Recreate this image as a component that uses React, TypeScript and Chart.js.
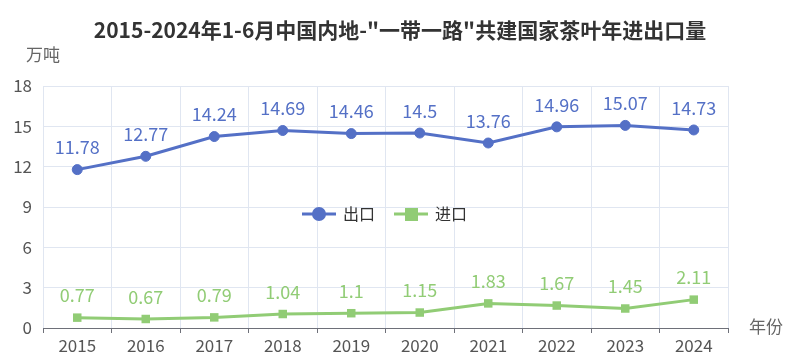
import React, { useEffect, useRef } from "react";
import { Chart, registerables } from "chart.js";

Chart.register(...registerables);

const years = ["2015", "2016", "2017", "2018", "2019", "2020", "2021", "2022", "2023", "2024"];
const exportValues = [11.78, 12.77, 14.24, 14.69, 14.46, 14.5, 13.76, 14.96, 15.07, 14.73];
const importValues = [0.77, 0.67, 0.79, 1.04, 1.1, 1.15, 1.83, 1.67, 1.45, 2.11];
const seriesNames = ["出口", "进口"];
const titleText = '2015-2024年1-6月中国内地-"一带一路"共建国家茶叶年进出口量';
const yUnit = "万吨";
const xUnit = "年份";

const BLUE = "#5470c6";
const GREEN = "#91cc75";
const FONT = '"Noto Sans CJK SC", "Noto Sans", sans-serif';

const overlayPlugin = {
  id: "overlay",
  afterDatasetsDraw(chart: any) {
    const ctx = chart.ctx;
    ctx.save();
    // data labels
    chart.data.datasets.forEach((ds: any, i: number) => {
      const meta = chart.getDatasetMeta(i);
      ctx.fillStyle = ds.borderColor;
      ctx.font = `18px ${FONT}`;
      ctx.textAlign = "center";
      ctx.textBaseline = "middle";
      meta.data.forEach((pt: any, j: number) => {
        ctx.fillText(String(ds.data[j]), pt.x, pt.y - 22);
      });
    });
    // title
    ctx.fillStyle = "#333";
    ctx.font = `bold 21px ${FONT}`;
    ctx.textAlign = "center";
    ctx.textBaseline = "middle";
    ctx.fillText(titleText, 400, 30);
    // axis names
    ctx.fillStyle = "#666";
    ctx.font = `17px ${FONT}`;
    ctx.fillText(yUnit, 43, 55);
    ctx.textAlign = "left";
    ctx.fillText(xUnit, 749, 327);
    // legend
    const ly = 214;
    const items = [
      { x: 302, color: BLUE, shape: "circle", name: seriesNames[0] },
      { x: 394, color: GREEN, shape: "rect", name: seriesNames[1] },
    ];
    items.forEach((it) => {
      ctx.strokeStyle = it.color;
      ctx.fillStyle = it.color;
      ctx.lineWidth = 3;
      ctx.beginPath();
      ctx.moveTo(it.x, ly);
      ctx.lineTo(it.x + 34, ly);
      ctx.stroke();
      if (it.shape === "circle") {
        ctx.beginPath();
        ctx.arc(it.x + 17, ly, 7, 0, Math.PI * 2);
        ctx.fill();
      } else {
        ctx.fillRect(it.x + 11, ly - 6, 13, 13);
      }
      ctx.fillStyle = "#333";
      ctx.font = `16px ${FONT}`;
      ctx.textAlign = "left";
      ctx.textBaseline = "middle";
      ctx.fillText(it.name, it.x + 41, ly);
    });
    ctx.restore();
  },
};

export default function App() {
  const ref = useRef<HTMLCanvasElement>(null);
  useEffect(() => {
    document.body.style.margin = "0";
    const chart = new Chart(ref.current as HTMLCanvasElement, {
      type: "line",
      data: {
        labels: years,
        datasets: [
          {
            label: seriesNames[0],
            data: exportValues,
            borderColor: BLUE,
            backgroundColor: BLUE,
            borderWidth: 3,
            pointStyle: "circle",
            pointRadius: 5,
            pointBorderWidth: 1,
            tension: 0,
          },
          {
            label: seriesNames[1],
            data: importValues,
            borderColor: GREEN,
            backgroundColor: GREEN,
            borderWidth: 3,
            pointStyle: "rect",
            pointRadius: 6,
            pointBorderWidth: 0,
            tension: 0,
          },
        ],
      },
      options: {
        responsive: false,
        animation: false,
        layout: { padding: { top: 86, right: 72, left: 0, bottom: 0 } },
        plugins: {
          legend: { display: false },
          title: { display: false },
          tooltip: { enabled: false },
        },
        scales: {
          x: {
            offset: true,
            grid: {
              offset: true,
              color: "#e0e6f1",
              tickColor: "#6e7079",
              tickLength: 5,
              lineWidth: 1,
            },
            border: { color: "#6e7079", width: 1 },
            ticks: { color: "#555", font: { size: 17, family: FONT }, padding: 2, maxRotation: 0 },
            afterFit: (s: any) => { s.height = 29; },
          },
          y: {
            min: 0,
            max: 18,
            ticks: { stepSize: 3, color: "#555", font: { size: 17, family: FONT }, padding: 11 },
            grid: { color: "#e0e6f1", drawTicks: false },
            border: { display: false },
            afterFit: (s: any) => { s.width = 43; },
          },
        },
      },
      plugins: [overlayPlugin],
    });
    return () => chart.destroy();
  }, []);
  return (
    <div style={{ position: "absolute", left: 0, top: 0, width: 800, height: 357, background: "#fff" }}>
      <canvas ref={ref} width={800} height={357} style={{ width: 800, height: 357 }} />
    </div>
  );
}
